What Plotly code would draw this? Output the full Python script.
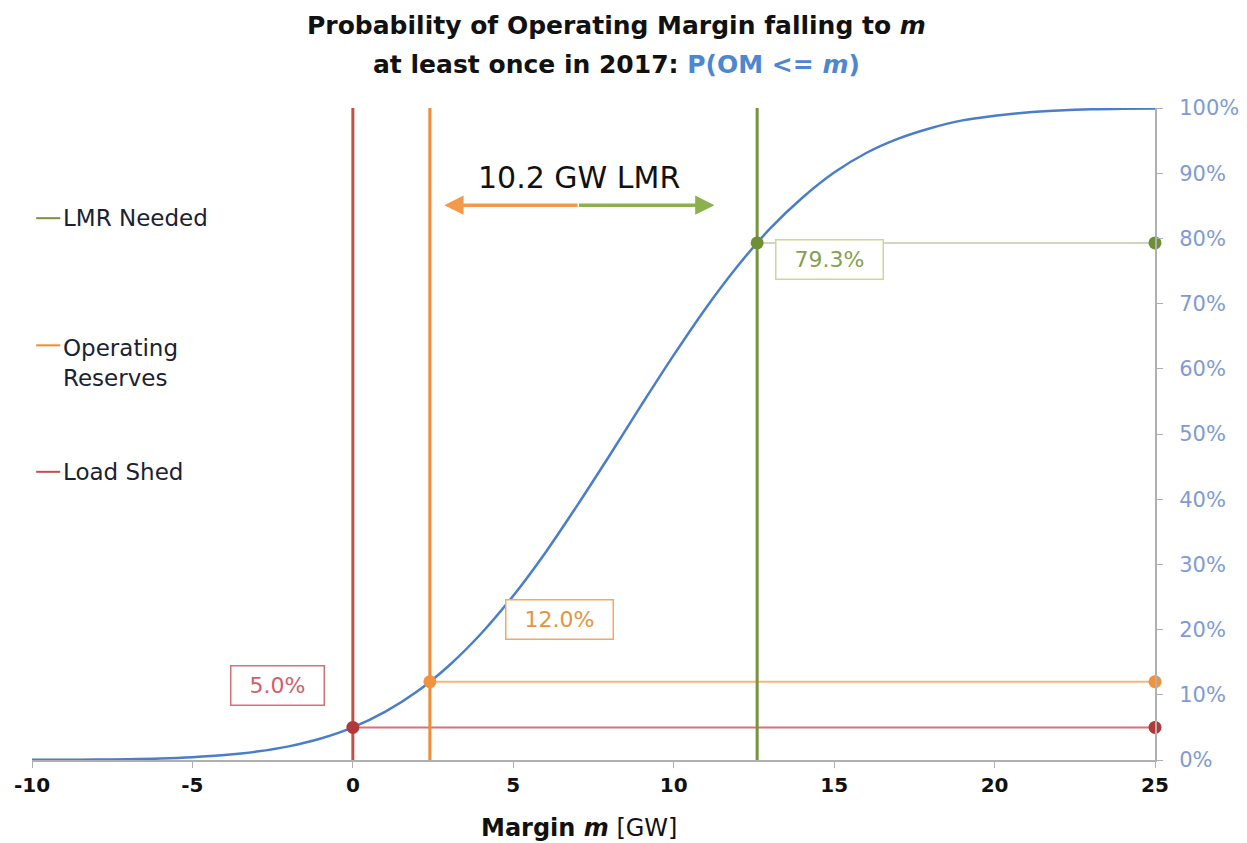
import plotly.graph_objects as go

# Curve: P(OM <= m)
margin_gw = list(range(-10, 26))
prob = [0.0002, 0.0003, 0.0007, 0.0013, 0.0024, 0.0044, 0.0076, 0.0129, 0.0209, 0.0329,
        0.050, 0.0737, 0.105, 0.145, 0.194, 0.252, 0.318, 0.391, 0.467, 0.545,
        0.621, 0.693, 0.758, 0.815, 0.862, 0.901, 0.931, 0.953, 0.969, 0.981,
        0.988, 0.993, 0.996, 0.998, 0.999, 0.9994]

# Threshold markers
thr_names = ["Load Shed", "Operating Reserves", "LMR Needed"]
thr_x = [0.0, 2.4, 12.6]
thr_p = [0.050, 0.120, 0.793]
thr_labels = ["5.0%", "12.0%", "79.3%"]
x_max = 25

x_ticks = [-10, -5, 0, 5, 10, 15, 20, 25]
x_ticktext = ["-10", "-5", "0", "5", "10", "15", "20", "25"]
y_ticks = [0, 0.1, 0.2, 0.3, 0.4, 0.5, 0.6, 0.7, 0.8, 0.9, 1.0]

FONT = "'DejaVu Sans', sans-serif"
vline_col = ["#c0504d", "#f58a2e", "#77933c"]
hline_col = ["#d9707a", "#f9b57a", "#cfd8bf"]
mark_col = ["#b03a3a", "#f0923e", "#6f8f35"]
box_col = ["#d8707a", "#f5a860", "#c8d89a"]
txt_col = ["#d2606a", "#e8943e", "#86a04e"]

fig = go.Figure()

fig.add_trace(go.Scatter(x=margin_gw, y=prob, mode="lines", line=dict(color="#4a7ec8", width=2.5, shape="spline"),
                         showlegend=False, hoverinfo="skip"))

for i in range(3):
    fig.add_trace(go.Scatter(x=[thr_x[i], thr_x[i]], y=[0, 1], mode="lines",
                             line=dict(color=vline_col[i], width=3), showlegend=False, hoverinfo="skip"))
    fig.add_trace(go.Scatter(x=[thr_x[i], x_max], y=[thr_p[i], thr_p[i]], mode="lines",
                             line=dict(color=hline_col[i], width=2), showlegend=False, hoverinfo="skip"))
    fig.add_trace(go.Scatter(x=[thr_x[i], x_max], y=[thr_p[i], thr_p[i]], mode="markers",
                             marker=dict(color=mark_col[i], size=13), showlegend=False, hoverinfo="skip",
                             cliponaxis=False))

# value boxes
box_pos = [(-2.35, 0.115), (6.45, 0.215), (14.85, 0.767)]
box_w = [84, 98, 98]
for i in range(3):
    fig.add_annotation(x=box_pos[i][0], y=box_pos[i][1], text=thr_labels[i], showarrow=False,
                       font=dict(family=FONT, size=22, color=txt_col[i]), width=box_w[i], height=30,
                       bordercolor=box_col[i], borderwidth=1.5, borderpad=4, bgcolor="white")

# LMR arrow (orange -> green)
arrow_y = 0.851
mid = 7.05
fig.add_annotation(x=2.85, y=arrow_y, ax=mid, ay=arrow_y, xref="x", yref="y", axref="x", ayref="y",
                   showarrow=True, arrowhead=2, arrowsize=1.1, arrowwidth=3.5, arrowcolor="#f4994a", text="")
fig.add_annotation(x=11.27, y=arrow_y, ax=mid - 0.05, ay=arrow_y, xref="x", yref="y", axref="x", ayref="y",
                   showarrow=True, arrowhead=2, arrowsize=1.1, arrowwidth=3.5, arrowcolor="#8db04e", text="")
fig.add_annotation(x=7.06, y=0.893, text="10.2 GW LMR", showarrow=False,
                   font=dict(family=FONT, size=30, color="#111111"))

# left side key
key_items = [("LMR Needed", 0.831, vline_col[2]),
             ("Operating<br>Reserves", 0.609, vline_col[1]),
             ("Load Shed", 0.442, vline_col[0])]
key_line_y = [0.831, 0.636, 0.442]
for (txt, yy, col), ly in zip(key_items, key_line_y):
    fig.add_annotation(x=-9.1, y=yy, xanchor="left", showarrow=False, align="left",
                       text=txt, font=dict(family=FONT, size=23, color="#1c2230"))
    fig.add_shape(type="line", x0=-9.87, x1=-9.12, y0=ly, y1=ly, xref="x", yref="y",
                  line=dict(color=col, width=2))

# title (two lines)
fig.add_annotation(x=0.5205, y=1.127, xref="paper", yref="paper", yanchor="middle", showarrow=False,
                   text="<b>Probability of Operating Margin falling to <i>m</i></b>",
                   font=dict(family=FONT, size=25, color="#111111"))
fig.add_annotation(x=0.5205, y=1.066, xref="paper", yref="paper", yanchor="middle", showarrow=False,
                   text="<b>at least once in 2017: <span style='color:#4f86d0'>P(OM <= <i>m</i>)</span></b>",
                   font=dict(family=FONT, size=25, color="#111111"))

# x axis title
fig.add_annotation(x=0.4875, y=-0.104, xref="paper", yref="paper", yanchor="middle", showarrow=False,
                   text="<b>Margin <i>m</i></b> [GW]",
                   font=dict(family=FONT, size=24, color="#111111"))

fig.update_layout(
    width=1239, height=835,
    margin=dict(l=24, r=92, t=100, b=83),
    paper_bgcolor="white", plot_bgcolor="white",
    xaxis=dict(range=[-10, 25], tickvals=x_ticks, ticktext=x_ticktext, showgrid=False, zeroline=False,
               automargin=False,
               showline=True, linecolor="#b0b0b0", linewidth=2, ticks="outside", ticklen=6,
               tickcolor="#b0b0b0", tickfont=dict(family=FONT, size=20, color="#111111", weight="bold")),
    yaxis=dict(range=[0, 1], side="right", tickvals=y_ticks, tickformat=".0%", showgrid=False,
               automargin=False,
               zeroline=False, showline=True, linecolor="#b0b0b0", linewidth=2, ticks="outside",
               ticklen=6, tickcolor="#b0b0b0", ticklabelstandoff=12,
               tickfont=dict(family=FONT, size=21, color="#7f9bd6")),
)

fig.write_html("out.html")
